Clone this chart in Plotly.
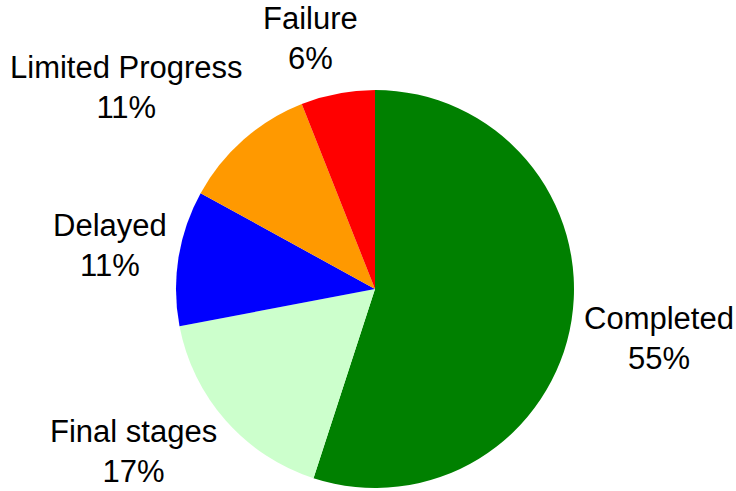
import plotly.graph_objects as go

labels = ["Completed", "Final stages", "Delayed", "Limited Progress", "Failure"]
values = [55, 17, 11, 11, 6]
colors = ["#008000", "#CCFFCC", "#0000FF", "#FF9900", "#FF0000"]

# label anchor positions in page pixels (x, y from top)
label_pos = [(659, 338), (133, 451), (110, 245), (126, 88), (310, 38)]

W, H = 736, 491
CX, CY, R = 375, 289, 199

fig = go.Figure(go.Pie(
    labels=labels, values=values, sort=False, direction="clockwise", rotation=0,
    marker=dict(colors=colors, line=dict(width=0)),
    textinfo="none", hoverinfo="label+percent",
    domain=dict(x=[(CX - R) / W, (CX + R) / W], y=[(H - CY - R) / H, (H - CY + R) / H]),
    showlegend=False,
))
total = sum(values)
annotations = []
for lab, v, (px, py) in zip(labels, values, label_pos):
    annotations.append(dict(
        text=f"{lab}<br>{v / total * 100:.0f}%", x=px / W, y=1 - py / H,
        xref="paper", yref="paper", xanchor="center", yanchor="middle",
        showarrow=False, align="center", borderpad=0,
        font=dict(family="Liberation Sans, Arial", size=31, color="black"),
    ))
fig.update_layout(
    width=W, height=H, margin=dict(l=0, r=0, t=0, b=0),
    paper_bgcolor="white", plot_bgcolor="white",
    annotations=annotations,
)
fig.write_html(
    "out.html",
    config={"displayModeBar": False},
    post_script="document.body.style.margin='0';document.body.style.overflow='hidden';",
)
